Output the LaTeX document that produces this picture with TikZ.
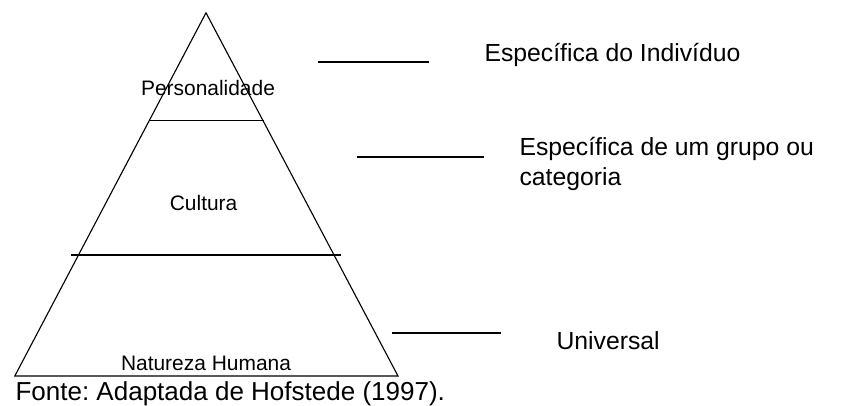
\documentclass[tikz,border=0pt]{standalone}
\usepackage{fontspec}
\setmainfont{Liberation Sans}
\frenchspacing
\usetikzlibrary{positioning}

\tikzset{
    layer/.style={font=\fontsize{14.9}{17.9}\selectfont, inner sep=0pt, anchor=base},
    note/.style={font=\fontsize{17.6}{21.1}\selectfont, inner sep=0pt, anchor=base west, align=left},
    bar/.style={line width=0.8pt}
}

\begin{document}
\begin{tikzpicture}[line width=0.8pt]
        \useasboundingbox (0, 0) rectangle (21.35, -10.125);

        \coordinate (apex) at (5.15, -0.32);
        \coordinate (baseL) at (0.37, -9.4);
        \coordinate (baseR) at (9.95, -9.4);
        \coordinate (a1) at (3.725, -3.0175);
        \coordinate (a2) at (6.6, -3.0175);
        \coordinate (b1) at (1.775, -6.375);
        \coordinate (b2) at (8.525, -6.375);
        \coordinate (p1) at (7.95, -1.55);
        \coordinate (p2) at (10.725, -1.55);
        \coordinate (c1) at (8.925, -3.925);
        \coordinate (c2) at (12.1, -3.925);
        \coordinate (u1) at (9.8, -8.325);
        \coordinate (u2) at (12.525, -8.325);

        \draw (apex) -- (baseL) -- (baseR) -- cycle;
        \draw[bar] (a1) to (a2)
            (b1) to (b2)
            (p1) to (p2)
            (c1) to (c2)
            (u1) to (u2);

        \node[layer] at (5.2, -2.375) (pers) {Personalidade};
        \node[layer] at (5.09, -5.27) (cult) {Cultura};
        \node[layer] at (5.15, -9.27) (nat) {Natureza Humana};

        \node[note] at (12.1, -1.54) (indiv) {Específica do Indivíduo};
        \node[note] at (12.975, -4.63) (grupo) {Específica de um grupo ou\\categoria};
        \node[note] at (13.9, -8.725) (univ) {Universal};

        \node[font=\fontsize{18.5}{22.2}\selectfont, inner sep=0pt, anchor=base west] at (0.375, -10.0) (fonte) {Fonte: Adaptada de Hofstede (1997).};
    \end{tikzpicture}
\end{document}
